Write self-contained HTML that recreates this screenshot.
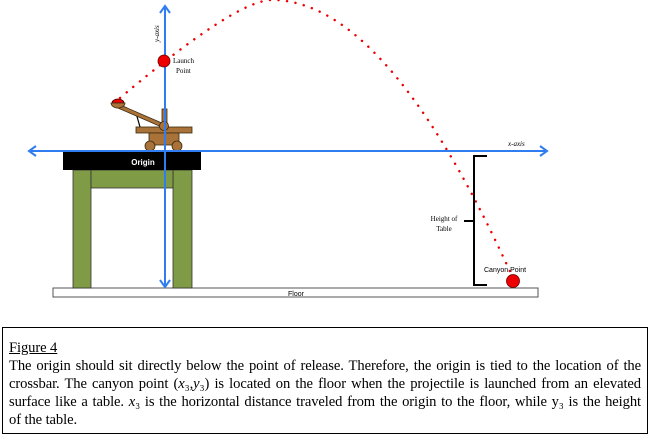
<!DOCTYPE html>
<html><head><style>
body{margin:0;width:652px;height:436px;background:#fff;overflow:hidden;position:relative;font-family:"Liberation Serif",serif}
#cap{position:absolute;left:2px;top:327px;width:644px;height:105px;border:1.5px solid #000;box-sizing:content-box}
#cap div{position:absolute;left:6px;top:11px;width:632px;font-size:14.6px;line-height:18px;text-align:justify;color:#000;letter-spacing:-0.1px}
</style></head><body>
<svg width="652" height="330" style="position:absolute;left:0;top:0">
<rect x="53" y="288" width="485" height="9" fill="#fff" stroke="#555" stroke-width="1"/>
<text x="296" y="296" font-family="Liberation Sans" font-size="7" text-anchor="middle">Floor</text>
<rect x="73" y="170" width="18" height="118" fill="#7f9b45" stroke="#333" stroke-width="0.8"/>
<rect x="173" y="170" width="19" height="118" fill="#7f9b45" stroke="#333" stroke-width="0.8"/>
<rect x="91" y="170" width="82" height="18" fill="#7f9b45" stroke="#333" stroke-width="0.8"/>
<rect x="63" y="152" width="138" height="18" fill="#000"/>
<text x="143" y="165" fill="#fff" font-family="Liberation Sans" font-size="8" font-weight="bold" text-anchor="middle">Origin</text>
<line x1="136" y1="113" x2="140" y2="127" stroke="#000" stroke-width="1.2"/>
<line x1="118" y1="106" x2="164" y2="126" stroke="#3a2a10" stroke-width="4.5"/>
<line x1="118" y1="106" x2="164" y2="126" stroke="#a87238" stroke-width="3"/>
<rect x="162" y="109" width="5" height="20" fill="#a87238" stroke="#3a2a10" stroke-width="0.8"/>
<rect x="136" y="127" width="56" height="6" fill="#a87238" stroke="#3a2a10" stroke-width="0.8"/>
<rect x="149" y="133" width="30" height="12" fill="#a87238" stroke="#3a2a10" stroke-width="0.8"/>
<circle cx="150" cy="146" r="5" fill="#a87238" stroke="#3a2a10" stroke-width="0.8"/>
<circle cx="177" cy="146" r="5" fill="#a87238" stroke="#3a2a10" stroke-width="0.8"/>
<circle cx="164" cy="126" r="4.5" fill="#a87238" stroke="#3a2a10" stroke-width="0.8"/>
<path d="M112,103 A6,4 0 0 1 124,103 Z" fill="#e00" stroke="#300" stroke-width="0.8"/>
<path d="M111,103 L125,103 A7,5 0 0 1 111,103 Z" fill="#a87238" stroke="#3a2a10" stroke-width="0.8"/>
<path d="M120,98 Q236,0 272,0 Q387,0 512,276" fill="none" stroke="#e00" stroke-width="2.4" stroke-dasharray="0.1 8.5" stroke-linecap="round"/>
<g stroke="#2f7df0" stroke-width="2" fill="none">
<line x1="30" y1="151" x2="546" y2="151"/>
<polyline points="36,146 29,151 36,156"/>
<polyline points="540,146 547,151 540,156"/>
<line x1="165" y1="6" x2="165" y2="287"/>
<polyline points="160,13 165,6 170,13"/>
<polyline points="160,280 165,287 170,280"/>
</g>
<circle cx="164" cy="61" r="6" fill="#e00" stroke="#600" stroke-width="0.8"/>
<text x="173" y="63" font-family="Liberation Serif" font-size="7">Launch</text>
<text x="176" y="73" font-family="Liberation Serif" font-size="7">Point</text>
<text transform="translate(159,42) rotate(-90)" font-family="Liberation Serif" font-style="italic" font-size="7">y-axis</text>
<text x="508" y="146" font-family="Liberation Serif" font-style="italic" font-size="7">x-axis</text>
<polyline points="487,156 474,156 474,285 487,285" fill="none" stroke="#000" stroke-width="2"/>
<line x1="464" y1="221" x2="474" y2="221" stroke="#000" stroke-width="2"/>
<text x="444" y="221" font-family="Liberation Serif" font-size="7" text-anchor="middle">Height of</text>
<text x="444" y="231" font-family="Liberation Serif" font-size="7" text-anchor="middle">Table</text>
<text x="484" y="272" font-family="Liberation Sans" font-size="7">Canyon Point</text>
<circle cx="513" cy="281" r="6.5" fill="#e00" stroke="#600" stroke-width="0.8"/>
</svg>
<div id="cap"><div><u>Figure 4</u><br>The origin should sit directly below the point of release. Therefore, the origin is tied to the location of the crossbar. The canyon point (<i>x</i>₃,<i>y</i>₃) is located on the floor when the projectile is launched from an elevated surface like a table. <i>x</i>₃ is the horizontal distance traveled from the origin to the floor, while y₃ is the height of&nbsp;the&nbsp;table.</div></div>
</body></html>
